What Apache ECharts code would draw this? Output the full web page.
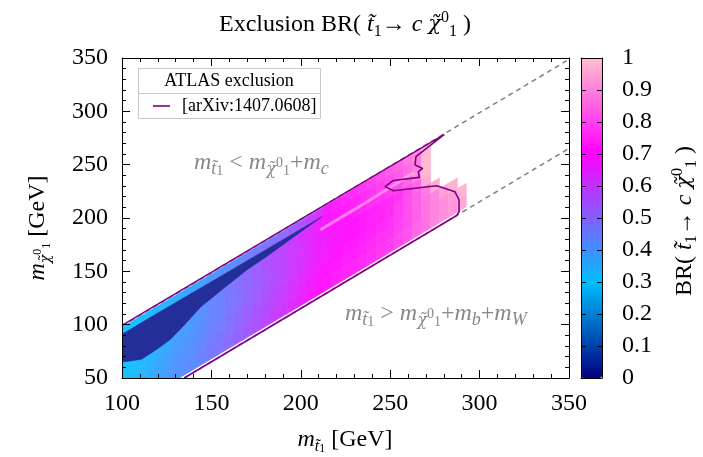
<!DOCTYPE html>
<html><head><meta charset="utf-8">
<script src="https://cdn.jsdelivr.net/npm/echarts@6/dist/echarts.min.js"></script>
<style>html,body{margin:0;padding:0;background:#fff}#c{width:703px;height:457px}</style>
</head><body><div id="c"></div>
<script>
// ---------- data ----------
// stop mass columns (GeV)
const stopMass = [100,105,110,115,120,125,130,135,140,145,150,155,160,165,170,175,180,185,190,195,200,205,210,215,220,225,230,235,240,245,250,255,260,265,270,275,280,285,290];
// mass-splitting bands  dm = m_stop - m_chi  (GeV)
const dmLow  = [2.5, 10, 20, 30, 40, 50, 60, 70];
const dmHigh = [10, 20, 30, 40, 50, 60, 70, 82];
// BR(stop -> c chi) read per band (rows) and stop mass (columns)
const brDm05 = [.30,.30,.31,.32,.33,.34,.35,.36,.37,.38,.40,.41,.42,.43,.45,.46,.47,.48,.50,.52,.55,.59,.63,.68,.72,.74,.75,.76,.78,.80,.82,.84,.87,.90,.98,null,null,null,null];
const brDm15 = [.30,.31,.32,.33,.35,.36,.38,.39,.40,.42,.44,.45,.47,.49,.51,.53,.55,.57,.59,.61,.63,.65,.67,.69,.71,.72,.73,.74,.76,.78,.80,.82,.85,.88,.98,null,null,null,null];
const brDm25 = [.30,.31,.32,.33,.35,.36,.38,.39,.40,.42,.44,.45,.47,.49,.51,.53,.55,.57,.59,.61,.63,.65,.67,.69,.70,.71,.72,.73,.74,.75,.77,.80,.84,.90,.98,null,null,null,null];
const brDm35 = [.30,.31,.32,.33,.35,.36,.38,.39,.40,.42,.44,.45,.47,.49,.51,.53,.55,.57,.59,.61,.63,.65,.67,.68,.69,.70,.70,.71,.72,.73,.74,.76,.79,.84,.96,null,null,null,null];
const brDm45 = [.30,.31,.32,.33,.35,.36,.38,.39,.40,.42,.44,.45,.47,.49,.51,.53,.55,.57,.59,.61,.63,.65,.67,.68,.69,.70,.70,.71,.72,.73,.74,.77,.80,.83,.87,.96,null,null,null];
const brDm55 = [.31,.32,.33,.34,.36,.37,.39,.40,.41,.43,.45,.46,.48,.50,.52,.54,.56,.58,.60,.62,.64,.66,.68,.69,.70,.71,.71,.72,.73,.74,.75,.77,.80,.83,.86,.89,.94,.97,null];
const brDm65 = [.32,.33,.34,.35,.37,.38,.40,.41,.42,.44,.46,.47,.49,.51,.53,.55,.57,.59,.61,.63,.65,.67,.69,.70,.71,.72,.72,.73,.74,.75,.76,.78,.80,.83,.86,.89,.91,.93,.97];
const brDm76 = [.33,.34,.35,.36,.38,.39,.41,.42,.43,.45,.47,.48,.50,.52,.54,.56,.58,.60,.62,.64,.66,.68,.70,.71,.72,.73,.73,.74,.75,.76,.77,.79,.81,.84,.86,.89,.91,.92,.95];
const brRows = [brDm05, brDm15, brDm25, brDm35, brDm45, brDm55, brDm65, brDm76];
// low-BR wedge (dark region)
const darkX        = [100, 105, 111, 120, 127, 135, 144, 155, 170, 181, 195, 205, 212];
const darkTopDm    = [9, 9, 9, 9, 9.2, 9.4, 9.6, 9.8, 10, 10.2, 10.4, 10.5, 10.5];
const darkBottomDm = [35, 39, 43.5, 42.5, 41, 35, 27.5, 23.5, 18.5, 17, 14, 12, 10.5];
const darkBR = 0.02;
// light ridge
const ridgeX = [211, 237, 263];
const ridgeY = [189, 215, 242.5];
// ATLAS exclusion contour
const contourX = [134.8, 287.2, 288.5, 288.5, 286.2, 276.0, 251.8, 247.1, 251.8, 266.3, 265.7, 268.2, 263.9, 264.4, 280.3, 218.0, 100.0];
const contourY = [50.0, 202.4, 205.9, 216.9, 224.7, 230.3, 225.6, 229.4, 235.2, 238.1, 243.4, 246.5, 249.7, 257.5, 278.4, 216.8, 99.3];
// kinematic lines
const mCharm = 1.3;
const mBottomW = 84.8;
const kinX = [100, 350];

// ---------- build ----------
const font = "'Liberation Serif','Times New Roman',serif";
const chiFont = "'DejaVu Serif',serif";
const palette = ['#000080','#0040aa','#007fd5','#00bfff','#408fff','#8060ff','#bf30ff','#ff00ff','#ff40ee','#ff80dc','#ffc0cb'];

const cellData = [];
brRows.forEach((row, r) => row.forEach((v, c) => {
  if (v !== null) cellData.push([stopMass[c], dmLow[r], dmHigh[r], v]);
}));
const halfW = (stopMass[1] - stopMass[0]) / 2;

function renderCell(params, api) {
  const xc = api.value(0), d0 = api.value(1), d1 = api.value(2);
  const a = xc - halfW, b = xc + halfW;
  const pts = [api.coord([a, a - d0]), api.coord([b, b - d0]), api.coord([b, b - d1]), api.coord([a, a - d1])];
  const col = echarts.color.lift(api.visual('color'), 0.08);
  return { type: 'polygon', shape: { points: pts }, style: { fill: col, stroke: col, lineWidth: 0.7 } };
}
function renderDark(params, api) {
  const pts = [];
  for (let i = 0; i < darkX.length; i++) pts.push(api.coord([darkX[i], darkX[i] - darkTopDm[i]]));
  for (let i = darkX.length - 1; i >= 0; i--) pts.push(api.coord([darkX[i], darkX[i] - darkBottomDm[i]]));
  const col = echarts.color.lift(api.visual('color'), 0.14);
  return { type: 'polygon', shape: { points: pts }, style: { fill: col, stroke: col, lineWidth: 0.5 } };
}

const pairs = (xs, ys) => xs.map((x, i) => [x, ys[i]]);
const upperKin = kinX.map(x => [x, x - mCharm]);
const lowerKin = [[50 + mBottomW, 50], [350, 350 - mBottomW]];

const R = (s, k) => ({
  n:  { fontSize: s, lineHeight: 30, fontFamily: font },
  i:  { fontSize: s, lineHeight: 30, fontStyle: 'italic', fontFamily: font },
  chi:{ fontSize: s - 3, lineHeight: 30, fontStyle: 'italic', fontFamily: chiFont },
  s:  { fontSize: Math.round(s * 0.67), lineHeight: 14, verticalAlign: 'bottom', fontFamily: font },
  si: { fontSize: Math.round(s * k), lineHeight: 16, verticalAlign: 'bottom', fontStyle: 'italic', fontFamily: font },
  sc: { fontSize: Math.round(s * (k - 0.09)), lineHeight: 16, verticalAlign: 'bottom', fontStyle: 'italic', fontFamily: chiFont },
  ss: { fontSize: Math.round(s * 0.67), lineHeight: 20, verticalAlign: 'top', fontFamily: font },
  s2: { fontSize: Math.round(s * (k - 0.17)), lineHeight: 4, verticalAlign: 'bottom', fontFamily: font },
  ss2:{ fontSize: Math.round(s * (k - 0.17)), lineHeight: 30, verticalAlign: 'middle', fontFamily: font }
});
const brText = '{n|BR( }{i|t\u0303}{s|1}{n|\u2192 }{i|c}{n| }{chi|\u03c7\u0303}{ss|0}{s|1}{n| )}';
const chiSub = '{sc|\u03c7\u0303}{ss2|0}{s2|1}';

const mainAxisCommon = {
  type: 'value', gridIndex: 0, z: 10,
  axisLine: { show: true, onZero: false, lineStyle: { color: '#000', width: 1 } },
  axisTick: { show: true, inside: true, length: 8, lineStyle: { color: '#000' } },
  minorTick: { show: true, splitNumber: 5, length: 4, lineStyle: { color: '#000' } },
  splitLine: { show: false }, minorSplitLine: { show: false },
  axisLabel: { color: '#000', fontSize: 24, fontFamily: font, margin: 14 }
};
const cbAxisCommon = {
  type: 'value', gridIndex: 1, z: 10, min: 0, max: 1,
  axisLine: { show: true, onZero: false, lineStyle: { color: '#000', width: 1 } },
  splitLine: { show: false }
};

const option = {
  animation: false,
  backgroundColor: '#fff',
  textStyle: { fontFamily: font },
  grid: [
    { left: 122, right: 134, top: 58, bottom: 79 },
    { left: 581, width: 21, top: 58, height: 320 }
  ],
  xAxis: [
    Object.assign({}, mainAxisCommon, { position: 'bottom', min: 100, max: 350, interval: 50 }),
    Object.assign({}, mainAxisCommon, { position: 'top', min: 100, max: 350, interval: 50, axisLabel: { show: false } }),
    Object.assign({}, cbAxisCommon, { position: 'bottom', axisTick: { show: false }, axisLabel: { show: false } }),
    Object.assign({}, cbAxisCommon, { position: 'top', axisTick: { show: false }, axisLabel: { show: false } })
  ],
  yAxis: [
    Object.assign({}, mainAxisCommon, { position: 'left', min: 50, max: 350, interval: 50 }),
    Object.assign({}, mainAxisCommon, { position: 'right', min: 50, max: 350, interval: 50, axisLabel: { show: false } }),
    Object.assign({}, cbAxisCommon, { position: 'left', interval: 0.1,
      axisTick: { show: true, inside: true, length: 5, lineStyle: { color: '#000' } }, axisLabel: { show: false } }),
    Object.assign({}, cbAxisCommon, { position: 'right', interval: 0.1,
      axisTick: { show: true, inside: true, length: 5, lineStyle: { color: '#000' } },
      axisLabel: { show: true, color: '#000', fontSize: 24, fontFamily: font, margin: 20 } })
  ],
  visualMap: {
    type: 'continuous', min: 0, max: 1, dimension: 3, seriesIndex: [0, 1],
    calculable: false, show: true, left: 581, top: 58, itemWidth: 21, itemHeight: 320,
    padding: 0, z: 1, inRange: { color: palette }
  },
  series: [
    { type: 'custom', xAxisIndex: 0, yAxisIndex: 0, clip: true, silent: true, z: 1,
      renderItem: renderCell, data: cellData },
    { type: 'custom', xAxisIndex: 0, yAxisIndex: 0, clip: true, silent: true, z: 2,
      renderItem: renderDark, data: [[0, 0, 0, darkBR]] },
    { type: 'line', xAxisIndex: 0, yAxisIndex: 0, data: pairs(ridgeX, ridgeY), symbol: 'none', silent: true, z: 3,
      lineStyle: { color: '#ffc8ea', width: 3, opacity: 0.55 } },
    { type: 'line', xAxisIndex: 0, yAxisIndex: 0, data: upperKin, symbol: 'none', silent: true, z: 4,
      lineStyle: { color: '#808080', width: 1.5, type: [5, 4] } },
    { type: 'line', xAxisIndex: 0, yAxisIndex: 0, data: lowerKin, symbol: 'none', silent: true, z: 4,
      lineStyle: { color: '#808080', width: 1.5, type: [5, 4] } },
    { type: 'line', xAxisIndex: 0, yAxisIndex: 0, data: pairs(contourX, contourY), symbol: 'none', silent: true, z: 5,
      lineStyle: { color: '#800080', width: 1.6 } }
  ],
  graphic: [
    { type: 'text', x: 345, y: 25, z: 20, style: { text: '{n|Exclusion }' + brText, rich: R(24, 0.67), fill: '#000', align: 'center', verticalAlign: 'middle' } },
    { type: 'text', x: 345, y: 440, z: 20, style: { text: '{i|m}{si|t\u0303}{s2|1}{n| [GeV]}', rich: R(24, 0.67), fill: '#000', align: 'center', verticalAlign: 'middle' } },
    { type: 'text', x: 38, y: 228, rotation: Math.PI / 2, z: 20, style: { text: '{i|m}' + chiSub + '{n| [GeV]}', rich: R(24, 0.67), fill: '#000', align: 'center', verticalAlign: 'middle' } },
    { type: 'text', x: 685, y: 221, rotation: Math.PI / 2, z: 20, style: { text: brText, rich: R(24, 0.67), fill: '#000', align: 'center', verticalAlign: 'middle' } },
    { type: 'text', x: 194, y: 163, z: 20, style: { text: '{i|m}{si|t\u0303}{s2|1}{n| < }{i|m}' + chiSub + '{n|+}{i|m}{si|c}', rich: R(24, 0.76), fill: '#888', align: 'left', verticalAlign: 'middle' } },
    { type: 'text', x: 345, y: 314, z: 20, style: { text: '{i|m}{si|t\u0303}{s2|1}{n| > }{i|m}' + chiSub + '{n|+}{i|m}{si|b}{n|+}{i|m}{si|W}', rich: R(24, 0.76), fill: '#888', align: 'left', verticalAlign: 'middle' } },
    { type: 'rect', z: 20, shape: { x: 138.5, y: 68.5, width: 182, height: 50 }, style: { fill: '#fff', stroke: '#c8c8c8', lineWidth: 1 } },
    { type: 'line', z: 21, shape: { x1: 138.5, y1: 93.5, x2: 320.5, y2: 93.5 }, style: { stroke: '#c8c8c8', lineWidth: 1 } },
    { type: 'text', x: 229, y: 81, z: 21, style: { text: 'ATLAS exclusion', font: "18px 'Liberation Serif',serif", fill: '#000', align: 'center', verticalAlign: 'middle' } },
    { type: 'line', z: 21, shape: { x1: 153, y1: 106, x2: 170, y2: 106 }, style: { stroke: '#800080', lineWidth: 1.6 } },
    { type: 'text', x: 182, y: 106, z: 21, style: { text: '[arXiv:1407.0608]', font: "18px 'Liberation Serif',serif", fill: '#000', align: 'left', verticalAlign: 'middle' } }
  ]
};
const chart = echarts.init(document.getElementById('c'), null, { renderer: 'canvas' });
chart.setOption(option);
</script></body></html>
